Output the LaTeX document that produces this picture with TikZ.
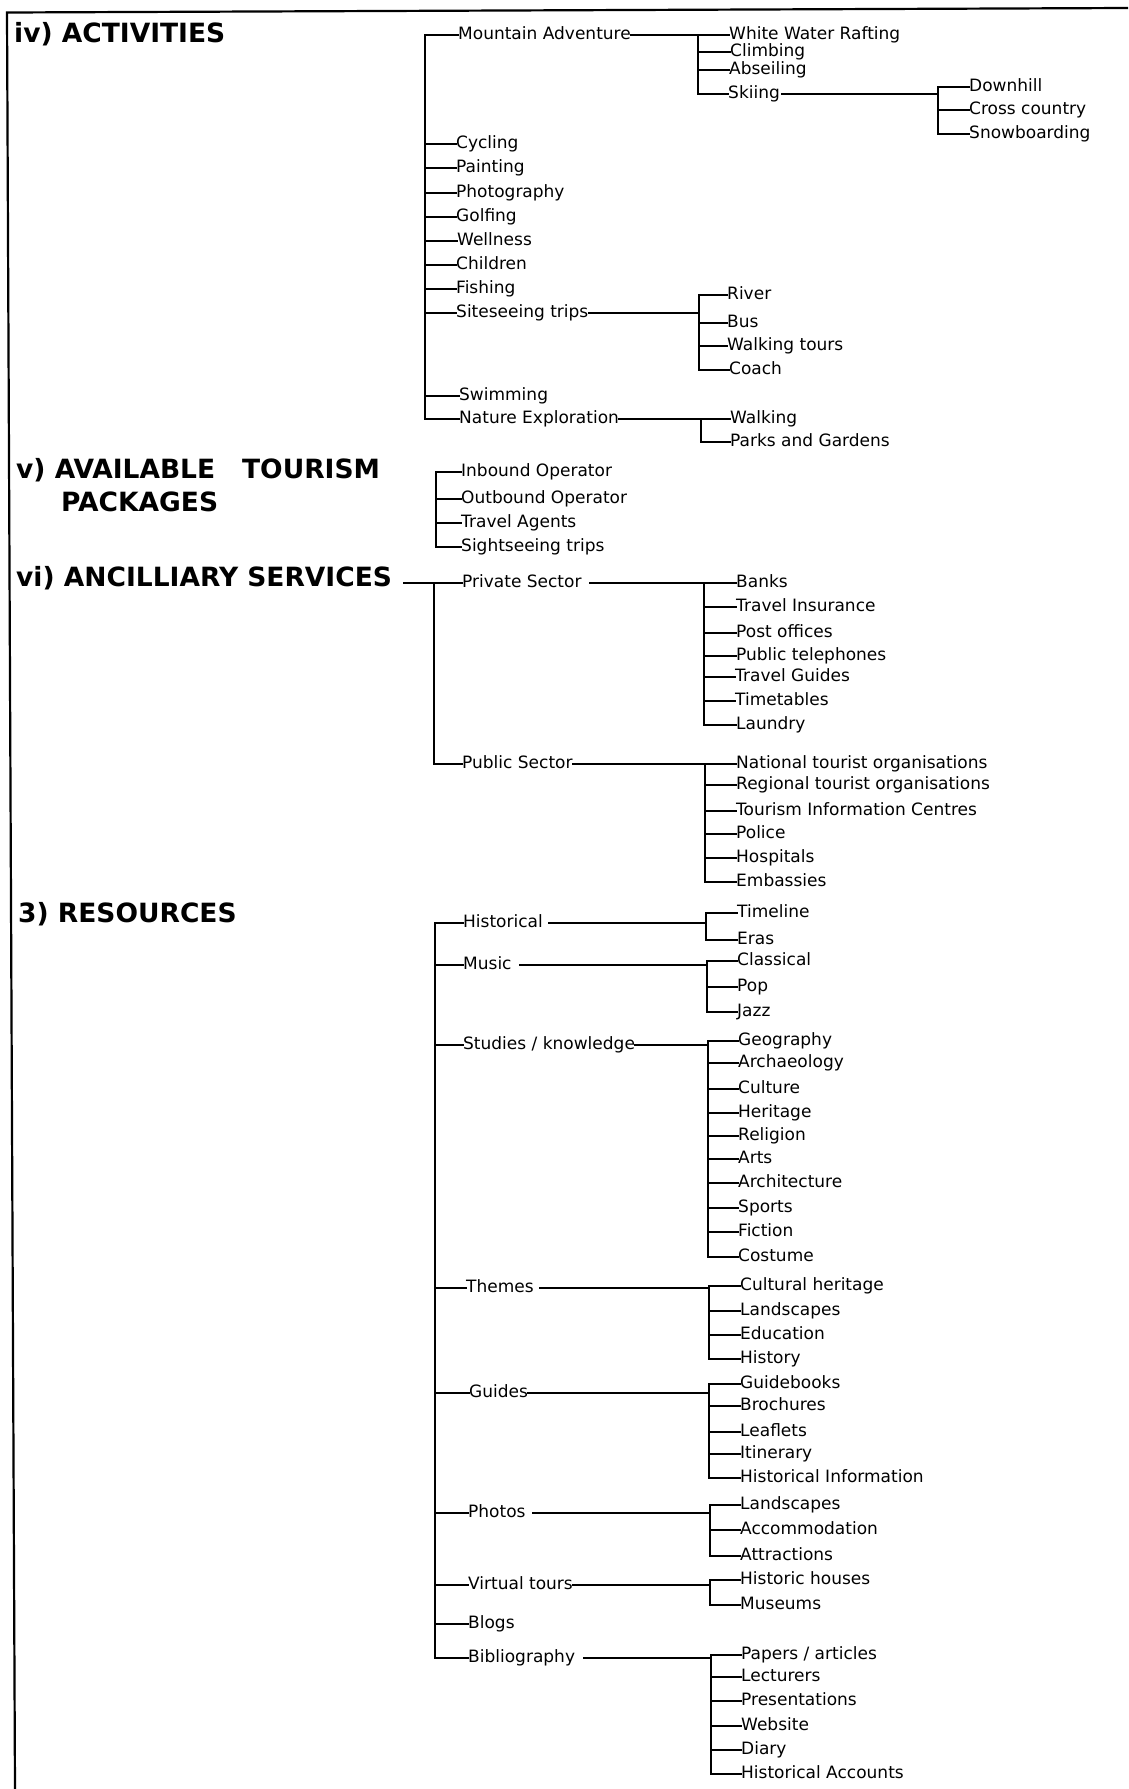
\documentclass[tikz,border=0pt]{standalone}
\usepackage{fontspec}
\setmainfont{DejaVu Sans}
\usetikzlibrary{calc}
\begin{document}
\begin{tikzpicture}[x=1pt,y=-1pt,
  item/.style={anchor=west,inner sep=0pt,font=\fontsize{17}{20}\selectfont,
               text height=12.5pt,text depth=4pt},
  head/.style={inner sep=0pt,font=\fontsize{26.5}{33}\selectfont\bfseries},
  link/.style={line width=1.4pt,line cap=rect},
  frame/.style={line width=2.2pt}]

% page and frame
\fill[white] (0,0) rectangle (1128,1789);
\useasboundingbox (0,0) rectangle (1128,1789);
\coordinate (c0) at (7,12.5);
\coordinate (c1) at (1128,8);
\coordinate (c2) at (15,1789);
\draw[frame] (c1) -- (c0) -- (c2);

% ---------------- iv) ACTIVITIES ----------------
\node[head,anchor=base west] (act) at (14,42.6) {iv) ACTIVITIES};

\coordinate (tA) at (425,0);
\node[item] (ma)  at (458,35)  {Mountain Adventure};
\node[item] (cyc) at (456,144) {Cycling};
\node[item] (pai) at (456,168) {Painting};
\node[item] (pho) at (456,193) {Photography};
\node[item] (gol) at (456,217) {Golfing};
\node[item] (wel) at (457,241) {Wellness};
\node[item] (chi) at (456,265) {Children};
\node[item] (fis) at (456,289) {Fishing};
\node[item] (sit) at (456,313) {Siteseeing trips};
\node[item] (swi) at (459,396) {Swimming};
\node[item] (nat) at (459,419) {Nature Exploration};
\draw[link] (ma.west -| tA) -- (nat.west -| tA);
\foreach \n in {ma,cyc,pai,pho,gol,wel,chi,fis,sit,swi,nat}
  \draw[link] (\n.west -| tA) -- (\n.west);

% Mountain Adventure
\coordinate (tMA) at (698,0);
\node[item] (wwr) at (729,35) {White Water Rafting};
\node[item] (cli) at (730,52) {Climbing};
\node[item] (abs) at (729,70) {Abseiling};
\node[item] (ski) at (728,94) {Skiing};
\draw[link] (ma.east) -- (ma.east -| tMA);
\draw[link] (wwr.west -| tMA) -- (ski.west -| tMA);
\foreach \n in {wwr,cli,abs,ski}
  \draw[link] (\n.west -| tMA) -- (\n.west);

% Skiing
\coordinate (tSk) at (938,0);
\node[item] (dow) at (969,87)  {Downhill};
\node[item] (cro) at (969,110) {Cross country};
\node[item] (sno) at (969,134) {Snowboarding};
\draw[link] ([xshift=2pt]ski.east) -- (ski.east -| tSk);
\draw[link] (dow.west -| tSk) -- (sno.west -| tSk);
\foreach \n in {dow,cro,sno}
  \draw[link] (\n.west -| tSk) -- (\n.west);

% Siteseeing trips
\coordinate (tSi) at (699,0);
\node[item] (riv) at (727,295) {River};
\node[item] (bus) at (727,323) {Bus};
\node[item] (wal) at (727,346) {Walking tours};
\node[item] (coa) at (729,370) {Coach};
\draw[link] (sit.east) -- (sit.east -| tSi);
\draw[link] (riv.west -| tSi) -- (coa.west -| tSi);
\foreach \n in {riv,bus,wal,coa}
  \draw[link] (\n.west -| tSi) -- (\n.west);

% Nature Exploration
\coordinate (tNa) at (701,0);
\node[item] (wlk) at (730,419) {Walking};
\node[item] (pag) at (730,442) {Parks and Gardens};
\draw[link] (nat.east) -- (nat.east -| tNa);
\draw[link] (wlk.west -| tNa) -- (pag.west -| tNa);
\foreach \n in {wlk,pag}
  \draw[link] (\n.west -| tNa) -- (\n.west);

% ---------------- v) AVAILABLE TOURISM PACKAGES ----------------
\node[head,anchor=north west,align=left] (pkh) at (16,458.5)
  {v) AVAILABLE\hspace{27pt}TOURISM\\\hspace*{45pt}PACKAGES};

\coordinate (tPk) at (436,0);
\node[item] (inb) at (461,472) {Inbound Operator};
\node[item] (out) at (461,499) {Outbound Operator};
\node[item] (tra) at (461,523) {Travel Agents};
\node[item] (sig) at (461,547) {Sightseeing trips};
\draw[link] (inb.west -| tPk) -- (sig.west -| tPk);
\foreach \n in {inb,out,tra,sig}
  \draw[link] (\n.west -| tPk) -- (\n.west);

% ---------------- vi) ANCILLIARY SERVICES ----------------
\node[head,anchor=base west] (anc) at (16,586.6) {vi) ANCILLIARY SERVICES};

\coordinate (tAn) at (434,0);
\node[item] (ps)  at (462,583) {Private Sector};
\node[item] (pub) at (462,764) {Public Sector};
\coordinate (ancj) at ($(anc.east |- ps.west)+(11,0)$);
\draw[link] (ancj) -- (ps.west);
\draw[link] (ps.west -| tAn) -- (pub.west -| tAn) -- (pub.west);

% Private Sector
\coordinate (tPr) at (704,0);
\node[item] (ban) at (736,583) {Banks};
\node[item] (tin) at (736,607) {Travel Insurance};
\node[item] (pos) at (736,633) {Post offices};
\node[item] (pte) at (736,656) {Public telephones};
\node[item] (tgu) at (735,677) {Travel Guides};
\node[item] (tim) at (735,701) {Timetables};
\node[item] (lau) at (736,725) {Laundry};
\draw[link] ([xshift=8pt]ps.east) -- (ps.east -| tPr);
\draw[link] (ban.west -| tPr) -- (lau.west -| tPr);
\foreach \n in {ban,tin,pos,pte,tgu,tim,lau}
  \draw[link] (\n.west -| tPr) -- (\n.west);

% Public Sector
\coordinate (tPu) at (705,0);
\node[item] (nto) at (736,764) {National tourist organisations};
\node[item] (rto) at (736,785) {Regional tourist organisations};
\node[item] (tic) at (736,811) {Tourism Information Centres};
\node[item] (pol) at (736,834) {Police};
\node[item] (hos) at (736,858) {Hospitals};
\node[item] (emb) at (736,882) {Embassies};
\draw[link] (pub.east) -- (pub.east -| tPu);
\draw[link] (nto.west -| tPu) -- (emb.west -| tPu);
\foreach \n in {nto,rto,tic,pol,hos,emb}
  \draw[link] (\n.west -| tPu) -- (\n.west);

% ---------------- 3) RESOURCES ----------------
\node[head,anchor=base west] (res) at (18,922.6) {3) RESOURCES};

\coordinate (tRe) at (435,0);
\node[item] (his) at (463,923)  {Historical};
\node[item] (mus) at (463,965)  {Music};
\node[item] (stu) at (463,1045) {Studies / knowledge};
\node[item] (the) at (466,1288) {Themes};
\node[item] (gui) at (469,1393) {Guides};
\node[item] (pht) at (468,1513) {Photos};
\node[item] (vir) at (468,1585) {Virtual tours};
\node[item] (blo) at (468,1624) {Blogs};
\node[item] (bib) at (468,1658) {Bibliography};
\draw[link] (his.west -| tRe) -- (bib.west -| tRe);
\foreach \n in {his,mus,stu,the,gui,pht,vir,blo,bib}
  \draw[link] (\n.west -| tRe) -- (\n.west);

% Historical
\coordinate (tHi) at (706,0);
\node[item] (tml) at (737,913) {Timeline};
\node[item] (era) at (737,940) {Eras};
\draw[link] ([xshift=6pt]his.east) -- (his.east -| tHi);
\draw[link] (tml.west -| tHi) -- (era.west -| tHi);
\foreach \n in {tml,era}
  \draw[link] (\n.west -| tHi) -- (\n.west);

% Music
\coordinate (tMu) at (707,0);
\node[item] (cla) at (737,961)  {Classical};
\node[item] (pop) at (737,987)  {Pop};
\node[item] (jaz) at (737,1012) {Jazz};
\draw[link] ([xshift=8pt]mus.east) -- (mus.east -| tMu);
\draw[link] (cla.west -| tMu) -- (jaz.west -| tMu);
\foreach \n in {cla,pop,jaz}
  \draw[link] (\n.west -| tMu) -- (\n.west);

% Studies / knowledge
\coordinate (tSt) at (708,0);
\node[item] (geo) at (738,1041) {Geography};
\node[item] (arc) at (738,1063) {Archaeology};
\node[item] (cul) at (738,1089) {Culture};
\node[item] (her) at (738,1113) {Heritage};
\node[item] (rel) at (738,1136) {Religion};
\node[item] (art) at (738,1159) {Arts};
\node[item] (arh) at (738,1183) {Architecture};
\node[item] (spo) at (738,1208) {Sports};
\node[item] (fic) at (738,1232) {Fiction};
\node[item] (cos) at (738,1257) {Costume};
\draw[link] (stu.east) -- (stu.east -| tSt);
\draw[link] (geo.west -| tSt) -- (cos.west -| tSt);
\foreach \n in {geo,arc,cul,her,rel,art,arh,spo,fic,cos}
  \draw[link] (\n.west -| tSt) -- (\n.west);

% Themes
\coordinate (tTh) at (709,0);
\node[item] (chr) at (740,1286) {Cultural heritage};
\node[item] (lan) at (740,1311) {Landscapes};
\node[item] (edu) at (740,1335) {Education};
\node[item] (hst) at (740,1359) {History};
\draw[link] ([xshift=6pt]the.east) -- (the.east -| tTh);
\draw[link] (chr.west -| tTh) -- (hst.west -| tTh);
\foreach \n in {chr,lan,edu,hst}
  \draw[link] (\n.west -| tTh) -- (\n.west);

% Guides
\coordinate (tGu) at (709,0);
\node[item] (gbk) at (740,1384) {Guidebooks};
\node[item] (bro) at (740,1406) {Brochures};
\node[item] (lea) at (740,1432) {Leaflets};
\node[item] (iti) at (740,1454) {Itinerary};
\node[item] (hin) at (740,1478) {Historical Information};
\draw[link] (gui.east) -- (gui.east -| tGu);
\draw[link] (gbk.west -| tGu) -- (hin.west -| tGu);
\foreach \n in {gbk,bro,lea,iti,hin}
  \draw[link] (\n.west -| tGu) -- (\n.west);

% Photos
\coordinate (tPh) at (710,0);
\node[item] (lsc) at (740,1505) {Landscapes};
\node[item] (acc) at (740,1530) {Accommodation};
\node[item] (att) at (740,1556) {Attractions};
\draw[link] ([xshift=7pt]pht.east) -- (pht.east -| tPh);
\draw[link] (lsc.west -| tPh) -- (att.west -| tPh);
\foreach \n in {lsc,acc,att}
  \draw[link] (\n.west -| tPh) -- (\n.west);

% Virtual tours
\coordinate (tVi) at (710,0);
\node[item] (hho) at (740,1580) {Historic houses};
\node[item] (mse) at (740,1605) {Museums};
\draw[link] (vir.east) -- (vir.east -| tVi);
\draw[link] (hho.west -| tVi) -- (mse.west -| tVi);
\foreach \n in {hho,mse}
  \draw[link] (\n.west -| tVi) -- (\n.west);

% Bibliography
\coordinate (tBi) at (711,0);
\node[item] (pap) at (741,1655) {Papers / articles};
\node[item] (lec) at (741,1677) {Lecturers};
\node[item] (pre) at (741,1701) {Presentations};
\node[item] (web) at (741,1726) {Website};
\node[item] (dia) at (741,1750) {Diary};
\node[item] (hac) at (741,1774) {Historical Accounts};
\draw[link] ([xshift=8pt]bib.east) -- (bib.east -| tBi);
\draw[link] (pap.west -| tBi) -- (hac.west -| tBi);
\foreach \n in {pap,lec,pre,web,dia,hac}
  \draw[link] (\n.west -| tBi) -- (\n.west);

\end{tikzpicture}
\end{document}
